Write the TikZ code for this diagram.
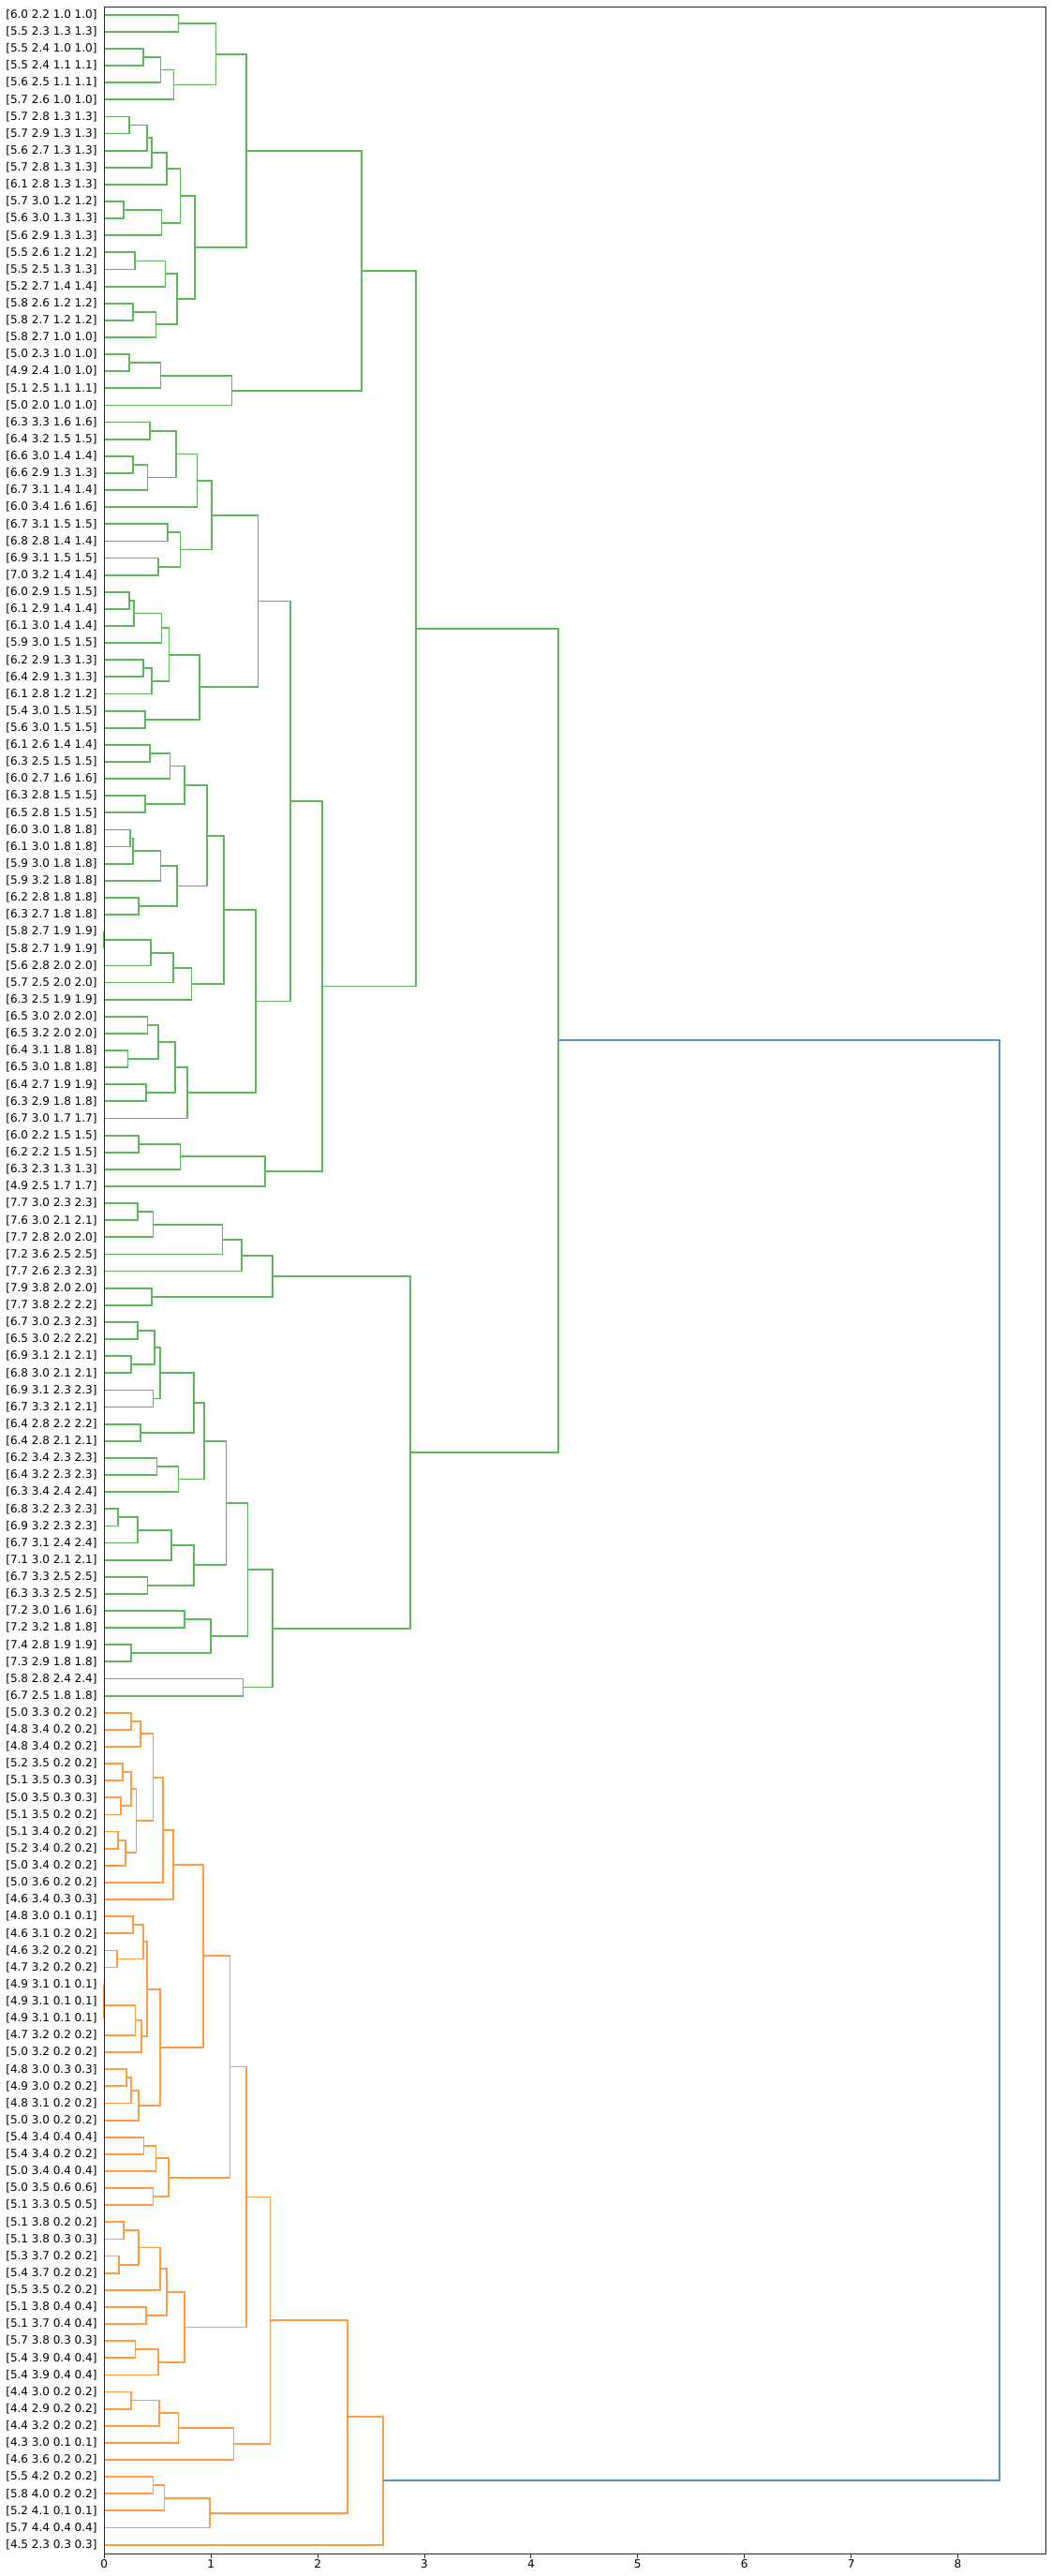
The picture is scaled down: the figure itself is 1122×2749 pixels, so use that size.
\documentclass[tikz,border=0pt]{standalone}
\usepackage{fontspec}
\setmainfont{DejaVu Sans}
\usetikzlibrary{calc}
\definecolor{cg}{RGB}{92,184,92}
\definecolor{co}{RGB}{255,157,69}
\definecolor{cb}{RGB}{82,150,197}
\definecolor{axc}{RGB}{38,38,38}
\newcommand\mrg[5]{%
  \path let \p1=($(#2)!0.5!(#3)$) in coordinate (#1) at (#4,\y1);
  \draw[link,draw=#5] (#2) -| (#1) |- (#3);}
\begin{document}
\begin{tikzpicture}[x=1pt,y=-1pt,
  link/.style={line width=1.8pt},
  spine/.style={draw=axc,line width=1pt},
  lab/.style={font=\fontsize{12}{14}\selectfont,inner sep=0pt,anchor=east},
  ticklab/.style={font=\fontsize{12}{14}\selectfont,inner sep=0pt,anchor=north}]
\useasboundingbox[fill=white] (0,0) rectangle (1122,2749);
\begin{scope}[shift={(111.3,0)},x=113.9pt,y=-1pt]
\foreach \t [count=\i from 0] in {6.0 2.2 1.0 1.0,5.5 2.3 1.3 1.3,5.5 2.4 1.0 1.0,5.5 2.4 1.1 1.1,5.6 2.5 1.1 1.1,5.7 2.6 1.0 1.0,5.7 2.8 1.3 1.3,5.7 2.9 1.3 1.3,5.6 2.7 1.3 1.3,5.7 2.8 1.3 1.3,6.1 2.8 1.3 1.3,5.7 3.0 1.2 1.2,5.6 3.0 1.3 1.3,5.6 2.9 1.3 1.3,5.5 2.6 1.2 1.2,5.5 2.5 1.3 1.3,5.2 2.7 1.4 1.4,5.8 2.6 1.2 1.2,5.8 2.7 1.2 1.2,5.8 2.7 1.0 1.0,5.0 2.3 1.0 1.0,4.9 2.4 1.0 1.0,5.1 2.5 1.1 1.1,5.0 2.0 1.0 1.0,6.3 3.3 1.6 1.6,6.4 3.2 1.5 1.5,6.6 3.0 1.4 1.4,6.6 2.9 1.3 1.3,6.7 3.1 1.4 1.4,6.0 3.4 1.6 1.6,6.7 3.1 1.5 1.5,6.8 2.8 1.4 1.4,6.9 3.1 1.5 1.5,7.0 3.2 1.4 1.4,6.0 2.9 1.5 1.5,6.1 2.9 1.4 1.4,6.1 3.0 1.4 1.4,5.9 3.0 1.5 1.5,6.2 2.9 1.3 1.3,6.4 2.9 1.3 1.3,6.1 2.8 1.2 1.2,5.4 3.0 1.5 1.5,5.6 3.0 1.5 1.5,6.1 2.6 1.4 1.4,6.3 2.5 1.5 1.5,6.0 2.7 1.6 1.6,6.3 2.8 1.5 1.5,6.5 2.8 1.5 1.5,6.0 3.0 1.8 1.8,6.1 3.0 1.8 1.8,5.9 3.0 1.8 1.8,5.9 3.2 1.8 1.8,6.2 2.8 1.8 1.8,6.3 2.7 1.8 1.8,5.8 2.7 1.9 1.9,5.8 2.7 1.9 1.9,5.6 2.8 2.0 2.0,5.7 2.5 2.0 2.0,6.3 2.5 1.9 1.9,6.5 3.0 2.0 2.0,6.5 3.2 2.0 2.0,6.4 3.1 1.8 1.8,6.5 3.0 1.8 1.8,6.4 2.7 1.9 1.9,6.3 2.9 1.8 1.8,6.7 3.0 1.7 1.7,6.0 2.2 1.5 1.5,6.2 2.2 1.5 1.5,6.3 2.3 1.3 1.3,4.9 2.5 1.7 1.7,7.7 3.0 2.3 2.3,7.6 3.0 2.1 2.1,7.7 2.8 2.0 2.0,7.2 3.6 2.5 2.5,7.7 2.6 2.3 2.3,7.9 3.8 2.0 2.0,7.7 3.8 2.2 2.2,6.7 3.0 2.3 2.3,6.5 3.0 2.2 2.2,6.9 3.1 2.1 2.1,6.8 3.0 2.1 2.1,6.9 3.1 2.3 2.3,6.7 3.3 2.1 2.1,6.4 2.8 2.2 2.2,6.4 2.8 2.1 2.1,6.2 3.4 2.3 2.3,6.4 3.2 2.3 2.3,6.3 3.4 2.4 2.4,6.8 3.2 2.3 2.3,6.9 3.2 2.3 2.3,6.7 3.1 2.4 2.4,7.1 3.0 2.1 2.1,6.7 3.3 2.5 2.5,6.3 3.3 2.5 2.5,7.2 3.0 1.6 1.6,7.2 3.2 1.8 1.8,7.4 2.8 1.9 1.9,7.3 2.9 1.8 1.8,5.8 2.8 2.4 2.4,6.7 2.5 1.8 1.8,5.0 3.3 0.2 0.2,4.8 3.4 0.2 0.2,4.8 3.4 0.2 0.2,5.2 3.5 0.2 0.2,5.1 3.5 0.3 0.3,5.0 3.5 0.3 0.3,5.1 3.5 0.2 0.2,5.1 3.4 0.2 0.2,5.2 3.4 0.2 0.2,5.0 3.4 0.2 0.2,5.0 3.6 0.2 0.2,4.6 3.4 0.3 0.3,4.8 3.0 0.1 0.1,4.6 3.1 0.2 0.2,4.6 3.2 0.2 0.2,4.7 3.2 0.2 0.2,4.9 3.1 0.1 0.1,4.9 3.1 0.1 0.1,4.9 3.1 0.1 0.1,4.7 3.2 0.2 0.2,5.0 3.2 0.2 0.2,4.8 3.0 0.3 0.3,4.9 3.0 0.2 0.2,4.8 3.1 0.2 0.2,5.0 3.0 0.2 0.2,5.4 3.4 0.4 0.4,5.4 3.4 0.2 0.2,5.0 3.4 0.4 0.4,5.0 3.5 0.6 0.6,5.1 3.3 0.5 0.5,5.1 3.8 0.2 0.2,5.1 3.8 0.3 0.3,5.3 3.7 0.2 0.2,5.4 3.7 0.2 0.2,5.5 3.5 0.2 0.2,5.1 3.8 0.4 0.4,5.1 3.7 0.4 0.4,5.7 3.8 0.3 0.3,5.4 3.9 0.4 0.4,5.4 3.9 0.4 0.4,4.4 3.0 0.2 0.2,4.4 2.9 0.2 0.2,4.4 3.2 0.2 0.2,4.3 3.0 0.1 0.1,4.6 3.6 0.2 0.2,5.5 4.2 0.2 0.2,5.8 4.0 0.2 0.2,5.2 4.1 0.1 0.1,5.7 4.4 0.4 0.4,4.5 2.3 0.3 0.3}{
  \coordinate (L\i) at (0,{15.7+18.12*\i});
  \node[lab] (n\i) at ([xshift=-7.6pt]L\i) {[\t]};
}
% green cluster A
\mrg{g1}{L0}{L1}{0.696}{cg}
\mrg{g2}{L2}{L3}{0.363}{cg}
\mrg{g3}{g2}{L4}{0.529}{cg}
\mrg{g4}{g3}{L5}{0.652}{cg}
\mrg{g5}{g1}{g4}{1.047}{cg}
\mrg{g6}{L6}{L7}{0.231}{cg}
\mrg{g7}{g6}{L8}{0.398}{cg}
\mrg{g8}{g7}{L9}{0.444}{cg}
\mrg{g9}{g8}{L10}{0.585}{cg}
\mrg{g10}{L11}{L12}{0.181}{cg}
\mrg{g11}{g10}{L13}{0.538}{cg}
\mrg{g12}{g9}{g11}{0.713}{cg}
\mrg{g13}{L14}{L15}{0.287}{cg}
\mrg{g14}{g13}{L16}{0.573}{cg}
\mrg{g15}{L17}{L18}{0.269}{cg}
\mrg{g16}{g15}{L19}{0.485}{cg}
\mrg{g17}{g14}{g16}{0.681}{cg}
\mrg{g18}{g12}{g17}{0.848}{cg}
\mrg{g19}{g5}{g18}{1.330}{cg}
\mrg{g20}{L20}{L21}{0.231}{cg}
\mrg{g21}{g20}{L22}{0.529}{cg}
\mrg{g22}{g21}{L23}{1.196}{cg}
\mrg{g23}{g19}{g22}{2.409}{cg}
% green cluster B
\mrg{g24}{L24}{L25}{0.427}{cg}
\mrg{g25}{L26}{L27}{0.269}{cg}
\mrg{g26}{g25}{L28}{0.406}{cg}
\mrg{g27}{g24}{g26}{0.673}{cg}
\mrg{g28}{g27}{L29}{0.871}{cg}
\mrg{g29}{L30}{L31}{0.594}{cg}
\mrg{g30}{L32}{L33}{0.506}{cg}
\mrg{g31}{g29}{g30}{0.713}{cg}
\mrg{g32}{g28}{g31}{1.006}{cg}
\mrg{g33}{L34}{L35}{0.231}{cg}
\mrg{g34}{g33}{L36}{0.278}{cg}
\mrg{g35}{g34}{L37}{0.538}{cg}
\mrg{g36}{L38}{L39}{0.363}{cg}
\mrg{g37}{g36}{L40}{0.444}{cg}
\mrg{g38}{g35}{g37}{0.608}{cg}
\mrg{g39}{L41}{L42}{0.383}{cg}
\mrg{g40}{g38}{g39}{0.892}{cg}
\mrg{g41}{g32}{g40}{1.442}{cg}
\mrg{g42}{L43}{L44}{0.427}{cg}
\mrg{g43}{g42}{L45}{0.617}{cg}
\mrg{g44}{L46}{L47}{0.383}{cg}
\mrg{g45}{g43}{g44}{0.751}{cg}
\mrg{g46}{L48}{L49}{0.240}{cg}
\mrg{g47}{g46}{L50}{0.269}{cg}
\mrg{g48}{g47}{L51}{0.529}{cg}
\mrg{g49}{L52}{L53}{0.319}{cg}
\mrg{g50}{g48}{g49}{0.681}{cg}
\mrg{g51}{g45}{g50}{0.962}{cg}
\mrg{g52}{L54}{L55}{0.0}{cg}
\mrg{g53}{g52}{L56}{0.436}{cg}
\mrg{g54}{g53}{L57}{0.646}{cg}
\mrg{g55}{g54}{L58}{0.819}{cg}
\mrg{g56}{g51}{g55}{1.120}{cg}
\mrg{g57}{L59}{L60}{0.406}{cg}
\mrg{g58}{L61}{L62}{0.222}{cg}
\mrg{g59}{g57}{g58}{0.506}{cg}
\mrg{g60}{L63}{L64}{0.392}{cg}
\mrg{g61}{g59}{g60}{0.664}{cg}
\mrg{g62}{g61}{L65}{0.778}{cg}
\mrg{g63}{g56}{g62}{1.418}{cg}
\mrg{g64}{g41}{g63}{1.743}{cg}
\mrg{g65}{L66}{L67}{0.319}{cg}
\mrg{g66}{g65}{L68}{0.713}{cg}
\mrg{g67}{g66}{L69}{1.506}{cg}
\mrg{g68}{g64}{g67}{2.041}{cg}
\mrg{g69}{g23}{g68}{2.918}{cg}
% green cluster C
\mrg{h1}{L70}{L71}{0.310}{cg}
\mrg{h2}{h1}{L72}{0.459}{cg}
\mrg{h3}{h2}{L73}{1.108}{cg}
\mrg{h4}{h3}{L74}{1.287}{cg}
\mrg{h5}{L75}{L76}{0.444}{cg}
\mrg{h6}{h4}{h5}{1.576}{cg}
\mrg{h7}{L77}{L78}{0.310}{cg}
\mrg{h8}{L79}{L80}{0.249}{cg}
\mrg{h9}{h7}{h8}{0.468}{cg}
\mrg{h10}{L81}{L82}{0.459}{cg}
\mrg{h11}{h9}{h10}{0.523}{cg}
\mrg{h12}{L83}{L84}{0.339}{cg}
\mrg{h13}{h11}{h12}{0.839}{cg}
\mrg{h14}{L85}{L86}{0.494}{cg}
\mrg{h15}{h14}{L87}{0.696}{cg}
\mrg{h16}{h13}{h15}{0.936}{cg}
\mrg{h17}{L88}{L89}{0.126}{cg}
\mrg{h18}{h17}{L90}{0.310}{cg}
\mrg{h19}{h18}{L91}{0.626}{cg}
\mrg{h20}{L92}{L93}{0.406}{cg}
\mrg{h21}{h19}{h20}{0.839}{cg}
\mrg{h22}{h16}{h21}{1.143}{cg}
\mrg{h23}{L94}{L95}{0.751}{cg}
\mrg{h24}{L96}{L97}{0.249}{cg}
\mrg{h25}{h23}{h24}{0.997}{cg}
\mrg{h26}{h22}{h25}{1.345}{cg}
\mrg{h27}{L98}{L99}{1.301}{cg}
\mrg{h28}{h26}{h27}{1.576}{cg}
\mrg{h29}{h6}{h28}{2.871}{cg}
\mrg{t1}{g69}{h29}{4.252}{cg}
% orange cluster
\mrg{o1}{L100}{L101}{0.249}{co}
\mrg{o2}{o1}{L102}{0.339}{co}
\mrg{o3}{L103}{L104}{0.170}{co}
\mrg{o4}{L105}{L106}{0.158}{co}
\mrg{o5}{o3}{o4}{0.249}{co}
\mrg{o6}{L107}{L108}{0.126}{co}
\mrg{o7}{o6}{L109}{0.196}{co}
\mrg{o8}{o5}{o7}{0.301}{co}
\mrg{o9}{o2}{o8}{0.459}{co}
\mrg{o10}{o9}{L110}{0.547}{co}
\mrg{o11}{o10}{L111}{0.646}{co}
\mrg{o12}{L112}{L113}{0.269}{co}
\mrg{o13}{L114}{L115}{0.120}{co}
\mrg{o14}{o12}{o13}{0.363}{co}
\mrg{o15}{L116}{L117}{0.0}{co}
\mrg{o16}{o15}{L118}{0.0}{co}
\mrg{o17}{o16}{L119}{0.292}{co}
\mrg{o18}{o17}{L120}{0.348}{co}
\mrg{o19}{o14}{o18}{0.398}{co}
\mrg{o20}{L121}{L122}{0.205}{co}
\mrg{o21}{o20}{L123}{0.249}{co}
\mrg{o22}{o21}{L124}{0.319}{co}
\mrg{o23}{o19}{o22}{0.523}{co}
\mrg{o24}{o11}{o23}{0.927}{co}
\mrg{o25}{L125}{L126}{0.371}{co}
\mrg{o26}{o25}{L127}{0.485}{co}
\mrg{o27}{L128}{L129}{0.459}{co}
\mrg{o28}{o26}{o27}{0.602}{co}
\mrg{o29}{o24}{o28}{1.178}{co}
\mrg{o30}{L130}{L131}{0.181}{co}
\mrg{o31}{L132}{L133}{0.135}{co}
\mrg{o32}{o30}{o31}{0.319}{co}
\mrg{o33}{o32}{L134}{0.523}{co}
\mrg{o34}{L135}{L136}{0.392}{co}
\mrg{o35}{o33}{o34}{0.585}{co}
\mrg{o36}{L137}{L138}{0.292}{co}
\mrg{o37}{o36}{L139}{0.506}{co}
\mrg{o38}{o35}{o37}{0.751}{co}
\mrg{o39}{o29}{o38}{1.330}{co}
\mrg{o40}{L140}{L141}{0.249}{co}
\mrg{o41}{o40}{L142}{0.515}{co}
\mrg{o42}{o41}{L143}{0.696}{co}
\mrg{o43}{o42}{L144}{1.213}{co}
\mrg{o44}{o39}{o43}{1.556}{co}
\mrg{o45}{L145}{L146}{0.459}{co}
\mrg{o46}{o45}{L147}{0.564}{co}
\mrg{o47}{o46}{L148}{0.988}{co}
\mrg{o48}{o44}{o47}{2.278}{co}
\mrg{o49}{o48}{L149}{2.617}{co}
% root
\mrg{root}{t1}{o49}{8.389}{cb}
% ticks
\foreach \k in {0,...,8}{
  \coordinate (tk\k) at (\k,2725);
  \draw[spine] (tk\k) -- ++(0,4.5);
  \node[ticklab] (tl\k) at ([yshift=-6.5pt]tk\k) {\k};
}
\end{scope}
\coordinate (fa) at (111.3,7);
\coordinate (fb) at (1116.3,2725);
\draw[spine] (fa) rectangle (fb);
\end{tikzpicture}
\end{document}
